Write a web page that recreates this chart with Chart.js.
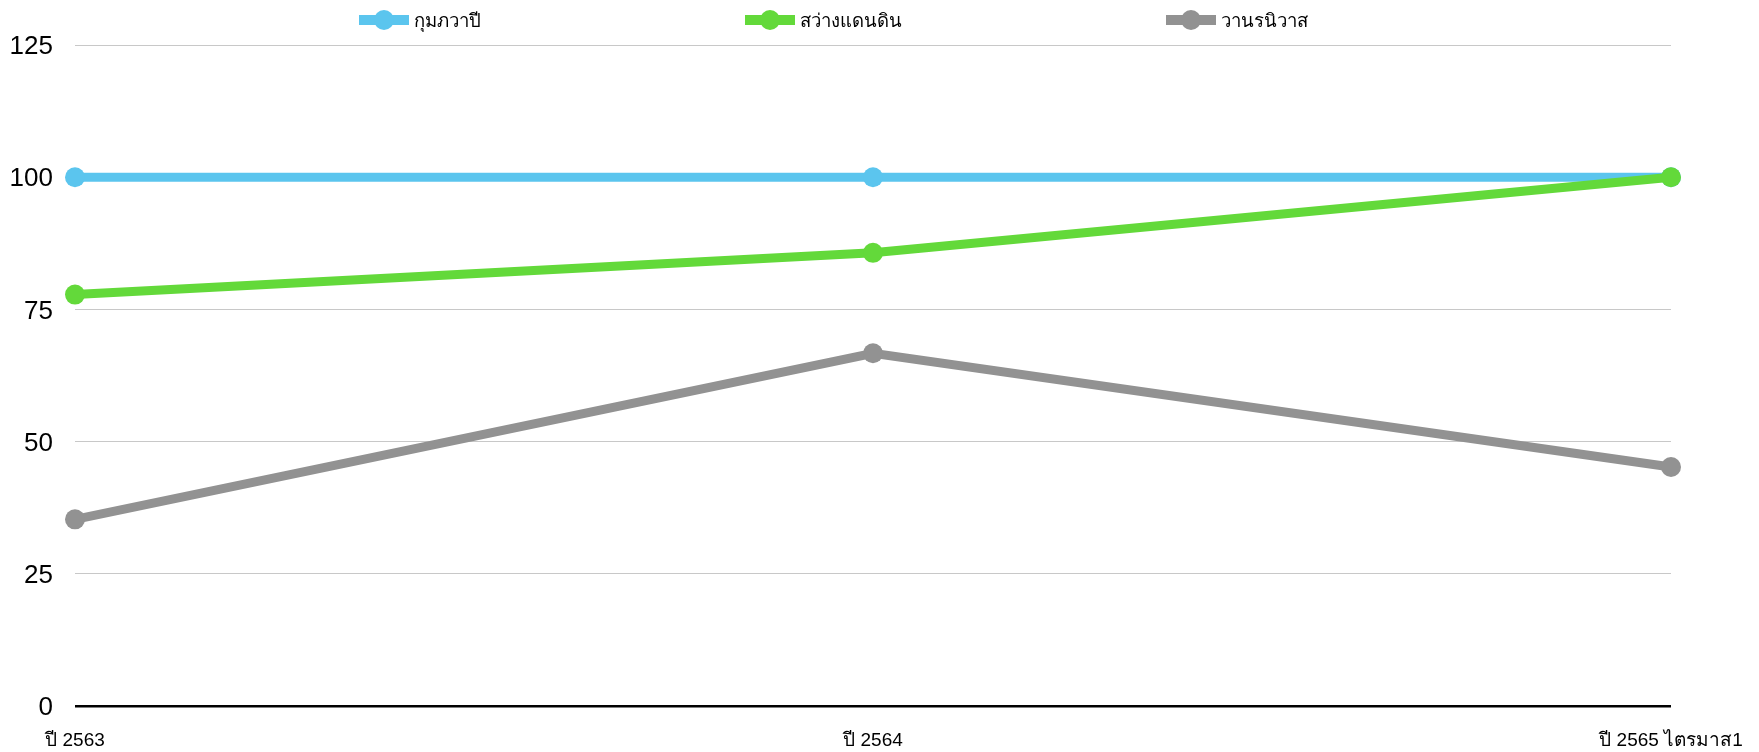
<!DOCTYPE html>
<html lang="th">
<head>
  <meta charset="UTF-8" />
  <title>กราฟเปรียบเทียบ</title>
  <script src="https://cdn.jsdelivr.net/npm/chart.js"></script>
  <style>
    body {
      margin: 0;
      background: #fff;
      font-family: Arial, "Liberation Sans", sans-serif;
    }
    #wrap {
      position: relative;
      width: 1759px;
      height: 752px;
    }
    #legenda {
      position: absolute;
      top: 9px;
      left: 359px;
      display: flex;
      gap: 264px;
      margin: 0;
      padding: 0;
      list-style: none;
    }
    #legenda li {
      display: flex;
      align-items: center;
      height: 22px;
      font-size: 18.5px;
      color: #000;
      white-space: nowrap;
    }
    .marca {
      position: relative;
      width: 50px;
      height: 20px;
      margin-right: 5px;
    }
    .marca .linha {
      position: absolute;
      left: 0;
      right: 0;
      top: 5px;
      height: 10px;
    }
    .marca .ponto {
      position: absolute;
      left: 15px;
      top: 0;
      width: 20px;
      height: 20px;
      border-radius: 50%;
    }
  </style>
</head>
<body>
  <div id="wrap">
    <canvas id="grafico" width="1759" height="752"></canvas>
    <ul id="legenda"></ul>
  </div>
  <script>
    const periodos = ['ปี 2563', 'ปี 2564', 'ปี 2565 ไตรมาส1'];
    const kumphawapi = [100, 100, 100];
    const sawangDaenDin = [77.8, 85.7, 100];
    const wanonNiwat = [35.3, 66.7, 45.2];
    const ticksY = [0, 25, 50, 75, 100, 125];

    const cores = {
      azul: '#5BC5EE',
      verde: '#63D93A',
      cinza: '#929292'
    };

    function serie(label, data, cor, ordem) {
      return {
        label,
        data,
        borderColor: cor,
        backgroundColor: cor,
        pointBackgroundColor: cor,
        pointBorderWidth: 0,
        pointRadius: 10,
        pointHoverRadius: 10,
        borderWidth: 9,
        tension: 0,
        order: ordem
      };
    }

    // legenda em HTML: linha grossa com um ponto no meio, na ordem dos datasets
    const legendaHtml = {
      id: 'legendaHtml',
      afterUpdate(chart) {
        const ul = document.getElementById('legenda');
        ul.innerHTML = '';
        chart.data.datasets.forEach(ds => {
          const li = document.createElement('li');
          li.innerHTML =
            `<span class="marca"><span class="linha" style="background:${ds.borderColor}"></span>` +
            `<span class="ponto" style="background:${ds.borderColor}"></span></span>`;
          li.appendChild(document.createTextNode(ds.label));
          ul.appendChild(li);
        });
      }
    };

    new Chart(document.getElementById('grafico'), {
      type: 'line',
      data: {
        labels: periodos,
        datasets: [
          serie('กุมภวาปี', kumphawapi, cores.azul, 3),
          serie('สว่างแดนดิน', sawangDaenDin, cores.verde, 2),
          serie('วานรนิวาส', wanonNiwat, cores.cinza, 1)
        ]
      },
      options: {
        responsive: false,
        animation: false,
        layout: { padding: { top: 45, left: 10, right: 88, bottom: 0 } },
        plugins: {
          legend: { display: false },
          tooltip: { enabled: false }
        },
        scales: {
          x: {
            offset: false,
            grid: { display: false },
            border: { display: false },
            afterFit: s => { s.height = 46; },
            ticks: {
              padding: 15,
              color: '#000',
              maxRotation: 0,
              font: { size: 19 }
            }
          },
          y: {
            min: 0,
            max: 125,
            afterBuildTicks: s => { s.ticks = ticksY.map(v => ({ value: v })); },
            afterFit: s => { s.width = 65; },
            border: { display: false },
            grid: {
              drawTicks: false,
              color: c => c.tick && c.tick.value === 0 ? '#000' : '#c8c8c8',
              lineWidth: c => c.tick && c.tick.value === 0 ? 2.5 : 1
            },
            ticks: {
              padding: 22,
              labelOffset: 2,
              color: '#000',
              font: { size: 26, family: 'Arial, "Liberation Sans", sans-serif' }
            }
          }
        }
      },
      plugins: [legendaHtml]
    });
  </script>
</body>
</html>
